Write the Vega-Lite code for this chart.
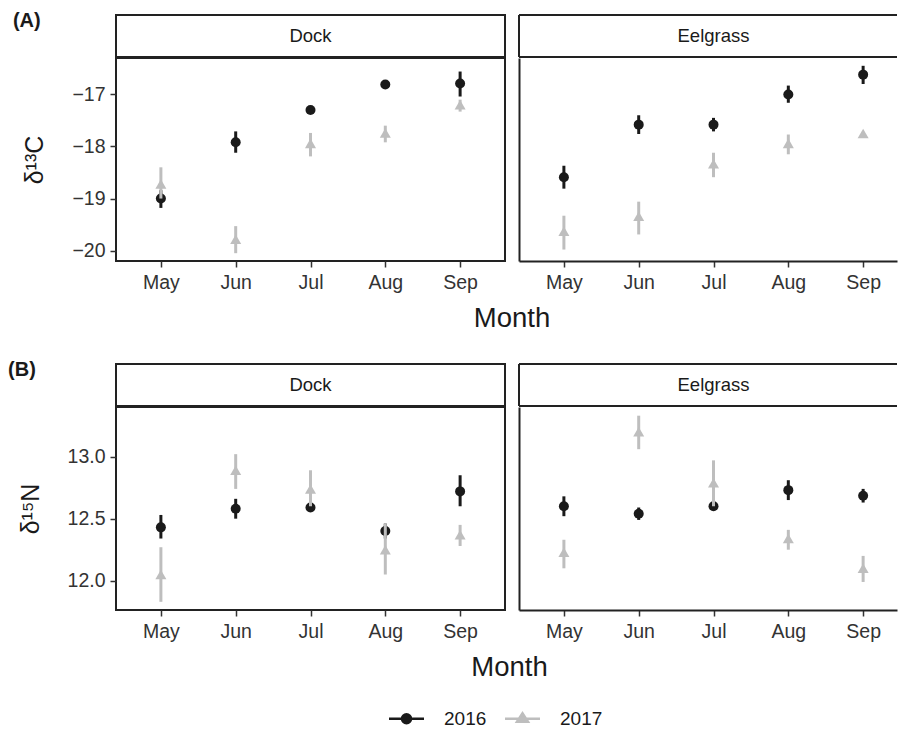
{
  "$schema": "https://vega.github.io/schema/vega-lite/v6.json",
  "padding": {"left": 8, "top": 11, "right": 0, "bottom": 0},
  "datasets": {
    "d": [
      {"v":"C","site":"Dock","month":"May","year":"2016","mean":-19.0,"lo":-19.18,"hi":-18.84},
      {"v":"C","site":"Dock","month":"Jun","year":"2016","mean":-17.92,"lo":-18.12,"hi":-17.71},
      {"v":"C","site":"Dock","month":"Jul","year":"2016","mean":-17.30,"lo":-17.37,"hi":-17.23},
      {"v":"C","site":"Dock","month":"Aug","year":"2016","mean":-16.81,"lo":-16.84,"hi":-16.78},
      {"v":"C","site":"Dock","month":"Sep","year":"2016","mean":-16.79,"lo":-17.04,"hi":-16.56},
      {"v":"C","site":"Dock","month":"May","year":"2017","mean":-18.72,"lo":-19.0,"hi":-18.40},
      {"v":"C","site":"Dock","month":"Jun","year":"2017","mean":-19.78,"lo":-20.05,"hi":-19.53},
      {"v":"C","site":"Dock","month":"Jul","year":"2017","mean":-17.94,"lo":-18.19,"hi":-17.74},
      {"v":"C","site":"Dock","month":"Aug","year":"2017","mean":-17.74,"lo":-17.92,"hi":-17.60},
      {"v":"C","site":"Dock","month":"Sep","year":"2017","mean":-17.20,"lo":-17.33,"hi":-17.10},
      {"v":"C","site":"Eelgrass","month":"May","year":"2016","mean":-18.59,"lo":-18.81,"hi":-18.37},
      {"v":"C","site":"Eelgrass","month":"Jun","year":"2016","mean":-17.58,"lo":-17.76,"hi":-17.40},
      {"v":"C","site":"Eelgrass","month":"Jul","year":"2016","mean":-17.58,"lo":-17.71,"hi":-17.45},
      {"v":"C","site":"Eelgrass","month":"Aug","year":"2016","mean":-17.00,"lo":-17.16,"hi":-16.83},
      {"v":"C","site":"Eelgrass","month":"Sep","year":"2016","mean":-16.62,"lo":-16.80,"hi":-16.45},
      {"v":"C","site":"Eelgrass","month":"May","year":"2017","mean":-19.63,"lo":-19.98,"hi":-19.33},
      {"v":"C","site":"Eelgrass","month":"Jun","year":"2017","mean":-19.34,"lo":-19.69,"hi":-19.06},
      {"v":"C","site":"Eelgrass","month":"Jul","year":"2017","mean":-18.33,"lo":-18.59,"hi":-18.12},
      {"v":"C","site":"Eelgrass","month":"Aug","year":"2017","mean":-17.94,"lo":-18.15,"hi":-17.77},
      {"v":"C","site":"Eelgrass","month":"Sep","year":"2017","mean":-17.75,"lo":-17.78,"hi":-17.72},
      {"v":"N","site":"Dock","month":"May","year":"2016","mean":12.43,"lo":12.34,"hi":12.53},
      {"v":"N","site":"Dock","month":"Jun","year":"2016","mean":12.58,"lo":12.50,"hi":12.66},
      {"v":"N","site":"Dock","month":"Jul","year":"2016","mean":12.59,"lo":12.56,"hi":12.62},
      {"v":"N","site":"Dock","month":"Aug","year":"2016","mean":12.40,"lo":12.34,"hi":12.46},
      {"v":"N","site":"Dock","month":"Sep","year":"2016","mean":12.72,"lo":12.60,"hi":12.85},
      {"v":"N","site":"Dock","month":"May","year":"2017","mean":12.05,"lo":11.83,"hi":12.27},
      {"v":"N","site":"Dock","month":"Jun","year":"2017","mean":12.89,"lo":12.74,"hi":13.02},
      {"v":"N","site":"Dock","month":"Jul","year":"2017","mean":12.74,"lo":12.60,"hi":12.89},
      {"v":"N","site":"Dock","month":"Aug","year":"2017","mean":12.25,"lo":12.05,"hi":12.46},
      {"v":"N","site":"Dock","month":"Sep","year":"2017","mean":12.37,"lo":12.28,"hi":12.45},
      {"v":"N","site":"Eelgrass","month":"May","year":"2016","mean":12.60,"lo":12.52,"hi":12.68},
      {"v":"N","site":"Eelgrass","month":"Jun","year":"2016","mean":12.54,"lo":12.49,"hi":12.59},
      {"v":"N","site":"Eelgrass","month":"Jul","year":"2016","mean":12.60,"lo":12.58,"hi":12.62},
      {"v":"N","site":"Eelgrass","month":"Aug","year":"2016","mean":12.73,"lo":12.65,"hi":12.81},
      {"v":"N","site":"Eelgrass","month":"Sep","year":"2016","mean":12.685,"lo":12.63,"hi":12.74},
      {"v":"N","site":"Eelgrass","month":"May","year":"2017","mean":12.23,"lo":12.10,"hi":12.33},
      {"v":"N","site":"Eelgrass","month":"Jun","year":"2017","mean":13.20,"lo":13.06,"hi":13.33},
      {"v":"N","site":"Eelgrass","month":"Jul","year":"2017","mean":12.79,"lo":12.60,"hi":12.97},
      {"v":"N","site":"Eelgrass","month":"Aug","year":"2017","mean":12.34,"lo":12.25,"hi":12.41},
      {"v":"N","site":"Eelgrass","month":"Sep","year":"2017","mean":12.10,"lo":11.99,"hi":12.20}
    ]
  },
  "config": {
    "font": "Liberation Sans",
    "view": {"stroke": null},
    "axis": {"labelFont": "Liberation Sans", "labelFontSize": 19.5, "labelColor": "#333333", "tickColor": "#333333", "tickWidth": 1.5, "tickSize": 6, "grid": false, "titleFont": "Liberation Sans", "titleFontWeight": "normal", "titleFontSize": 25, "titleColor": "#1a1a1a", "domainColor": "#222222", "domainWidth": 2, "labelPadding": 6},
    "title": {"font": "Liberation Sans"}
  },
  "spacing": 28,
  "vconcat": [
    {
      "title": {"text": "(A)", "anchor": "start", "frame": "bounds", "orient": "top", "offset": -17, "dx": -9, "fontSize": 20, "fontWeight": "bold", "color": "#1a1a1a"},
      "vconcat": [
        {
          "title": {"text": "Month", "orient": "bottom", "anchor": "middle", "frame": "bounds", "offset": 12, "dx": 52, "fontSize": 27.5, "fontWeight": "normal", "color": "#1a1a1a"},
          "spacing": 12,
          "hconcat": [
            {
              "spacing": -1,
              "vconcat": [
                {"width": 389, "height": 42, "data": {"values": [{"site": "Dock"}]}, "view": {"stroke": "#222222", "strokeWidth": 2}, "mark": {"type": "text", "fontSize": 18.5, "color": "#1a1a1a"}, "encoding": {"text": {"field": "site"}}},
                {
                  "width": 389, "height": 203,
                  "data": {"name": "d"},
                  "transform": [{"filter": "datum.v == 'C' && datum.site == 'Dock'"}],
                  "view": {"stroke": "#222222", "strokeWidth": 2},
                  "encoding": {
                    "x": {"field": "month", "type": "nominal", "sort": ["May","Jun","Jul","Aug","Sep"], "scale": {"type": "point", "padding": 0.6}, "axis": {"title": null, "labelAngle": 0, "domain": false}},
                    "color": {"field": "year", "type": "nominal", "scale": {"domain": ["2016","2017"], "range": ["#1a1a1a","#bebebe"]},
                      "legend": {"orient": "none", "legendX": 279, "legendY": 692, "direction": "horizontal", "title": null, "symbolSize": 400, "symbolStrokeWidth": 2.5, "labelFontSize": 19, "labelFont": "Liberation Sans", "labelColor": "#1a1a1a", "labelOffset": 26, "columnPadding": 13,
                        "encode": {"symbols": {"update": {"shape": {"signal": "datum.label == '2016' ? 'M-1.75,0H1.75M-0.45,0A0.45,0.45 0 1,0 0.45,0A0.45,0.45 0 1,0 -0.45,0Z' : 'M-1.75,0H1.75M-0.55,0.3L0,-0.55L0.55,0.3Z'"}, "fill": {"signal": "datum.label == '2016' ? '#1a1a1a' : '#bebebe'"}, "stroke": {"signal": "datum.label == '2016' ? '#1a1a1a' : '#bebebe'"}, "strokeWidth": {"value": 2.5}, "opacity": {"value": 1}}}}}}
                  },
                  "layer": [
                    {"transform": [{"filter": "datum.year == '2016'"}], "mark": {"type": "rule", "strokeWidth": 3}, "encoding": {"y": {"field": "lo", "type": "quantitative", "scale": {"domain": [-20.2, -16.3], "nice": false, "zero": false}, "axis": {"title": "δ¹³C", "values": [-20,-19,-18,-17], "format": "d", "domain": false, "labelPadding": 5, "titlePadding": 24}}, "y2": {"field": "hi"}}},
                    {"transform": [{"filter": "datum.year == '2016'"}], "mark": {"type": "point", "shape": "circle", "filled": true, "opacity": 1, "size": 100}, "encoding": {"y": {"field": "mean", "type": "quantitative", "scale": {"domain": [-20.2, -16.3], "nice": false, "zero": false}, "axis": {"title": "δ¹³C", "values": [-20,-19,-18,-17], "format": "d", "domain": false, "labelPadding": 5, "titlePadding": 24}}}},
                    {"transform": [{"filter": "datum.year == '2017'"}], "mark": {"type": "rule", "strokeWidth": 3}, "encoding": {"y": {"field": "lo", "type": "quantitative", "scale": {"domain": [-20.2, -16.3], "nice": false, "zero": false}, "axis": {"title": "δ¹³C", "values": [-20,-19,-18,-17], "format": "d", "domain": false, "labelPadding": 5, "titlePadding": 24}}, "y2": {"field": "hi"}}},
                    {"transform": [{"filter": "datum.year == '2017'"}], "mark": {"type": "point", "shape": "triangle-up", "filled": true, "opacity": 1, "size": 121}, "encoding": {"y": {"field": "mean", "type": "quantitative", "scale": {"domain": [-20.2, -16.3], "nice": false, "zero": false}, "axis": {"title": "δ¹³C", "values": [-20,-19,-18,-17], "format": "d", "domain": false, "labelPadding": 5, "titlePadding": 24}}}}
                  ]
                }
              ]
            },
            {
              "spacing": -1,
              "vconcat": [
                {"width": 378, "height": 42, "data": {"values": [{"site": "Eelgrass"}]},
                  "layer": [
                    {"mark": {"type": "text", "fontSize": 18.5, "color": "#1a1a1a", "dx": 5.5}, "encoding": {"text": {"field": "site"}}},
                    {"mark": {"type": "rule", "color": "#222222", "strokeWidth": 2}, "encoding": {"y": {"datum": 1, "type": "quantitative", "scale": {"domain": [0, 1], "nice": false}, "axis": null}}},
                    {"mark": {"type": "rule", "color": "#222222", "strokeWidth": 2}, "encoding": {"y": {"datum": 0, "type": "quantitative", "scale": {"domain": [0, 1], "nice": false}, "axis": null}}},
                    {"mark": {"type": "rule", "color": "#222222", "strokeWidth": 2}, "encoding": {"x": {"datum": 0, "type": "quantitative", "scale": {"domain": [0, 1], "nice": false}, "axis": null}}}
                  ]
                },
                {
                  "width": 378, "height": 203,
                  "data": {"name": "d"},
                  "transform": [{"filter": "datum.v == 'C' && datum.site == 'Eelgrass'"}],
                  "encoding": {
                    "x": {"field": "month", "type": "nominal", "sort": ["May","Jun","Jul","Aug","Sep"], "scale": {"type": "point", "padding": 0.5264, "align": 0.57}, "axis": {"title": null, "labelAngle": 0, "domain": true}},
                    "color": {"field": "year", "type": "nominal", "scale": {"domain": ["2016","2017"], "range": ["#1a1a1a","#bebebe"]}}
                  },
                  "layer": [
                    {"transform": [{"filter": "datum.year == '2016'"}], "mark": {"type": "rule", "strokeWidth": 3}, "encoding": {"y": {"field": "lo", "type": "quantitative", "scale": {"domain": [-20.2, -16.3], "nice": false, "zero": false}, "axis": {"title": null, "labels": false, "ticks": false, "domain": true}}, "y2": {"field": "hi"}}},
                    {"transform": [{"filter": "datum.year == '2016'"}], "mark": {"type": "point", "shape": "circle", "filled": true, "opacity": 1, "size": 100}, "encoding": {"y": {"field": "mean", "type": "quantitative", "scale": {"domain": [-20.2, -16.3], "nice": false, "zero": false}, "axis": {"title": null, "labels": false, "ticks": false, "domain": true}}}},
                    {"transform": [{"filter": "datum.year == '2017'"}], "mark": {"type": "rule", "strokeWidth": 3}, "encoding": {"y": {"field": "lo", "type": "quantitative", "scale": {"domain": [-20.2, -16.3], "nice": false, "zero": false}, "axis": {"title": null, "labels": false, "ticks": false, "domain": true}}, "y2": {"field": "hi"}}},
                    {"transform": [{"filter": "datum.year == '2017'"}], "mark": {"type": "point", "shape": "triangle-up", "filled": true, "opacity": 1, "size": 121}, "encoding": {"y": {"field": "mean", "type": "quantitative", "scale": {"domain": [-20.2, -16.3], "nice": false, "zero": false}, "axis": {"title": null, "labels": false, "ticks": false, "domain": true}}}}
                  ]
                }
              ]
            }
          ]
        }
      ]
    },
    {
      "title": {"text": "(B)", "anchor": "start", "frame": "bounds", "orient": "top", "offset": -17, "dx": -9, "fontSize": 20, "fontWeight": "bold", "color": "#1a1a1a"},
      "vconcat": [
        {
          "title": {"text": "Month", "orient": "bottom", "anchor": "middle", "frame": "bounds", "offset": 12, "dx": 52, "fontSize": 27.5, "fontWeight": "normal", "color": "#1a1a1a"},
          "spacing": 12,
          "hconcat": [
            {
              "spacing": -1,
              "vconcat": [
                {"width": 389, "height": 42, "data": {"values": [{"site": "Dock"}]}, "view": {"stroke": "#222222", "strokeWidth": 2}, "mark": {"type": "text", "fontSize": 18.5, "color": "#1a1a1a"}, "encoding": {"text": {"field": "site"}}},
                {
                  "width": 389, "height": 203,
                  "data": {"name": "d"},
                  "transform": [{"filter": "datum.v == 'N' && datum.site == 'Dock'"}],
                  "view": {"stroke": "#222222", "strokeWidth": 2},
                  "encoding": {
                    "x": {"field": "month", "type": "nominal", "sort": ["May","Jun","Jul","Aug","Sep"], "scale": {"type": "point", "padding": 0.6}, "axis": {"title": null, "labelAngle": 0, "domain": false}},
                    "color": {"field": "year", "type": "nominal", "scale": {"domain": ["2016","2017"], "range": ["#1a1a1a","#bebebe"]}}
                  },
                  "layer": [
                    {"transform": [{"filter": "datum.year == '2016'"}], "mark": {"type": "rule", "strokeWidth": 3}, "encoding": {"y": {"field": "lo", "type": "quantitative", "scale": {"domain": [11.764, 13.4], "nice": false, "zero": false}, "axis": {"title": "δ¹⁵N", "values": [12, 12.5, 13], "format": ".1f", "domain": false, "labelPadding": 5, "titlePadding": 24}}, "y2": {"field": "hi"}}},
                    {"transform": [{"filter": "datum.year == '2016'"}], "mark": {"type": "point", "shape": "circle", "filled": true, "opacity": 1, "size": 100}, "encoding": {"y": {"field": "mean", "type": "quantitative", "scale": {"domain": [11.764, 13.4], "nice": false, "zero": false}, "axis": {"title": "δ¹⁵N", "values": [12, 12.5, 13], "format": ".1f", "domain": false, "labelPadding": 5, "titlePadding": 24}}}},
                    {"transform": [{"filter": "datum.year == '2017'"}], "mark": {"type": "rule", "strokeWidth": 3}, "encoding": {"y": {"field": "lo", "type": "quantitative", "scale": {"domain": [11.764, 13.4], "nice": false, "zero": false}, "axis": {"title": "δ¹⁵N", "values": [12, 12.5, 13], "format": ".1f", "domain": false, "labelPadding": 5, "titlePadding": 24}}, "y2": {"field": "hi"}}},
                    {"transform": [{"filter": "datum.year == '2017'"}], "mark": {"type": "point", "shape": "triangle-up", "filled": true, "opacity": 1, "size": 121}, "encoding": {"y": {"field": "mean", "type": "quantitative", "scale": {"domain": [11.764, 13.4], "nice": false, "zero": false}, "axis": {"title": "δ¹⁵N", "values": [12, 12.5, 13], "format": ".1f", "domain": false, "labelPadding": 5, "titlePadding": 24}}}}
                  ]
                }
              ]
            },
            {
              "spacing": -1,
              "vconcat": [
                {"width": 378, "height": 42, "data": {"values": [{"site": "Eelgrass"}]},
                  "layer": [
                    {"mark": {"type": "text", "fontSize": 18.5, "color": "#1a1a1a", "dx": 5.5}, "encoding": {"text": {"field": "site"}}},
                    {"mark": {"type": "rule", "color": "#222222", "strokeWidth": 2}, "encoding": {"y": {"datum": 1, "type": "quantitative", "scale": {"domain": [0, 1], "nice": false}, "axis": null}}},
                    {"mark": {"type": "rule", "color": "#222222", "strokeWidth": 2}, "encoding": {"y": {"datum": 0, "type": "quantitative", "scale": {"domain": [0, 1], "nice": false}, "axis": null}}},
                    {"mark": {"type": "rule", "color": "#222222", "strokeWidth": 2}, "encoding": {"x": {"datum": 0, "type": "quantitative", "scale": {"domain": [0, 1], "nice": false}, "axis": null}}}
                  ]
                },
                {
                  "width": 378, "height": 203,
                  "data": {"name": "d"},
                  "transform": [{"filter": "datum.v == 'N' && datum.site == 'Eelgrass'"}],
                  "encoding": {
                    "x": {"field": "month", "type": "nominal", "sort": ["May","Jun","Jul","Aug","Sep"], "scale": {"type": "point", "padding": 0.5264, "align": 0.57}, "axis": {"title": null, "labelAngle": 0, "domain": true}},
                    "color": {"field": "year", "type": "nominal", "scale": {"domain": ["2016","2017"], "range": ["#1a1a1a","#bebebe"]}}
                  },
                  "layer": [
                    {"transform": [{"filter": "datum.year == '2016'"}], "mark": {"type": "rule", "strokeWidth": 3}, "encoding": {"y": {"field": "lo", "type": "quantitative", "scale": {"domain": [11.764, 13.4], "nice": false, "zero": false}, "axis": {"title": null, "labels": false, "ticks": false, "domain": true}}, "y2": {"field": "hi"}}},
                    {"transform": [{"filter": "datum.year == '2016'"}], "mark": {"type": "point", "shape": "circle", "filled": true, "opacity": 1, "size": 100}, "encoding": {"y": {"field": "mean", "type": "quantitative", "scale": {"domain": [11.764, 13.4], "nice": false, "zero": false}, "axis": {"title": null, "labels": false, "ticks": false, "domain": true}}}},
                    {"transform": [{"filter": "datum.year == '2017'"}], "mark": {"type": "rule", "strokeWidth": 3}, "encoding": {"y": {"field": "lo", "type": "quantitative", "scale": {"domain": [11.764, 13.4], "nice": false, "zero": false}, "axis": {"title": null, "labels": false, "ticks": false, "domain": true}}, "y2": {"field": "hi"}}},
                    {"transform": [{"filter": "datum.year == '2017'"}], "mark": {"type": "point", "shape": "triangle-up", "filled": true, "opacity": 1, "size": 121}, "encoding": {"y": {"field": "mean", "type": "quantitative", "scale": {"domain": [11.764, 13.4], "nice": false, "zero": false}, "axis": {"title": null, "labels": false, "ticks": false, "domain": true}}}}
                  ]
                }
              ]
            }
          ]
        }
      ]
    }
  ]
}
